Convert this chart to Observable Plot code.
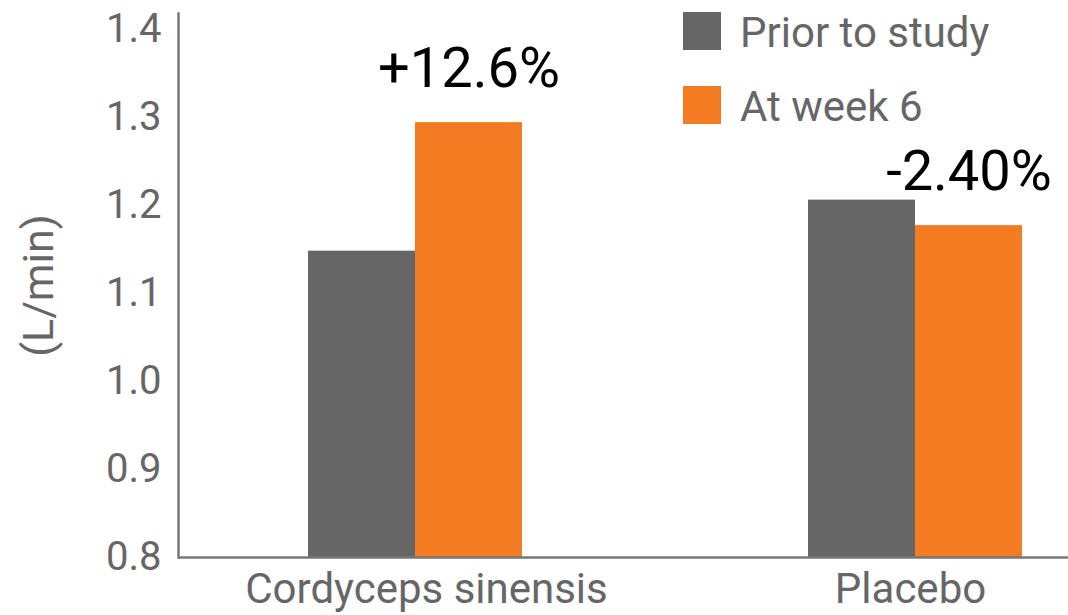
<!DOCTYPE html>
<html>
<head>
<meta charset="utf-8">
<script src="https://cdn.jsdelivr.net/npm/d3@7"></script>
<script src="https://cdn.jsdelivr.net/npm/@observablehq/plot@0.6"></script>
<style>
  html, body { margin: 0; padding: 0; background: #fff; }
  #wrap { position: relative; width: 1068px; height: 615px; font-family: Roboto, "Noto Sans", sans-serif; }
  #legend { position: absolute; left: 683px; top: 12px; }
  .row { display: flex; align-items: center; height: 38px; margin-bottom: 36px; }
  .sw { width: 38px; height: 38px; margin-right: 19px; }
  .lab { font-size: 42px; line-height: 42px; color: #666666; white-space: nowrap; position: relative; top: 2px; }
</style>
</head>
<body>
<div id="wrap"></div>
<script>
const groups = ["Cordyceps sinensis", "Placebo"];
const series = ["Prior to study", "At week 6"];
const priorValues = [1.148, 1.206];
const week6Values = [1.294, 1.177];
const changeLabels = ["+12.6%", "-2.40%"];
const yTicks = [0.8, 0.9, 1.0, 1.1, 1.2, 1.3, 1.4];
const yLabel = "(L/min)";
const colors = ["#666666", "#f37b22"];
const yMin = 0.8;
const yMax = 1.418;

const prior = groups.map((g, i) => ({group: g, value: priorValues[i]}));
const week6 = groups.map((g, i) => ({group: g, value: week6Values[i], change: changeLabels[i]}));

const chart = Plot.plot({
  width: 1068,
  height: 615,
  marginTop: 13,
  marginBottom: 58,
  marginLeft: 178,
  marginRight: 0,
  style: {fontFamily: "Roboto, 'Noto Sans', sans-serif", color: "#666666", background: "white"},
  x: {domain: groups, paddingInner: 0.572, paddingOuter: 0.176, align: 0.739, axis: null},
  y: {domain: [yMin, yMax], axis: null},
  marks: [
    Plot.barY(prior, {x: "group", y1: yMin, y2: "value", fill: colors[0], insetRight: 107}),
    Plot.barY(week6, {x: "group", y1: yMin, y2: "value", fill: colors[1], insetLeft: 107}),
    Plot.ruleY([yMin], {stroke: "#777777", strokeWidth: 2.5}),
    Plot.frame({anchor: "left", stroke: "#777777", strokeWidth: 2.5}),
    Plot.axisY({ticks: yTicks, tickFormat: d3.format(".1f"), tickSize: 0, tickPadding: 17, fontSize: 40, fill: "#666666", label: null}),
    Plot.axisY({ticks: [], tickSize: 0, fontSize: 43, fill: "#666666",
      label: yLabel, labelAnchor: "center", labelOffset: 156, labelArrow: "none"}),
    Plot.axisX({ticks: [groups[0]], tickSize: 0, tickPadding: 16, fontSize: 42, fill: "#666666", label: null, dx: 11}),
    Plot.axisX({ticks: [groups[1]], tickSize: 0, tickPadding: 16, fontSize: 42, fill: "#666666", label: null, dx: -5}),
    Plot.text(week6, {x: "group", y: "value", text: "change", dx: 53.5, dy: -36, lineAnchor: "bottom", fontSize: 56, fill: "#000000"})
  ]
});

const wrap = document.getElementById("wrap");
wrap.appendChild(chart);

const legend = document.createElement("div");
legend.id = "legend";
series.forEach((s, i) => {
  const row = document.createElement("div");
  row.className = "row";
  const sw = document.createElement("div");
  sw.className = "sw";
  sw.style.background = colors[i];
  const lab = document.createElement("div");
  lab.className = "lab";
  lab.textContent = s;
  row.appendChild(sw);
  row.appendChild(lab);
  legend.appendChild(row);
});
wrap.appendChild(legend);
</script>
</body>
</html>
